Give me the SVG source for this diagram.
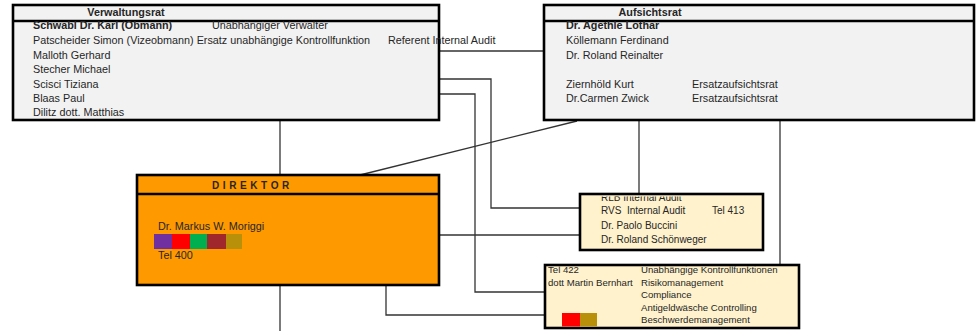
<svg xmlns="http://www.w3.org/2000/svg" width="978" height="331" viewBox="0 0 978 331">
<defs>
<style>
.box{stroke:#000;stroke-width:2.6}
.sep{stroke:#000;stroke-width:2.4}
.gray{fill:#F2F2F2}
.orange{fill:#FF9900}
.cream{fill:#FFF2CC}
.con{fill:none;stroke:#333;stroke-width:1.3}
text{font-family:"Liberation Sans",Arial,sans-serif;fill:#262626}
.t{font-size:10.8px}
.b{font-weight:bold}
.s{font-size:10px}
.xs{font-size:9.6px}
</style>
<clipPath id="cRLB"><rect x="581.5" y="196.5" width="180" height="52"/></clipPath>
<clipPath id="cBot"><rect x="546.5" y="266.5" width="251" height="60"/></clipPath>
</defs>
<rect width="978" height="331" fill="#fff"/>
<g id="connectors">
<path class="con" d="M280 120V175"/>
<path class="con" d="M280 285V331"/>
<path class="con" d="M439 51H544"/>
<path class="con" d="M439 79H491V208H580"/>
<path class="con" d="M439 94H475V292H545"/>
<path class="con" d="M439 235H580"/>
<path class="con" d="M386 285V315H545"/>
<path class="con" d="M577 121L360 175"/>
<path class="con" d="M639 120V194"/>
<path class="con" d="M780 120V265"/>
</g>
<g id="verwaltungsrat">
<rect class="box gray" x="13" y="5" width="426" height="115"/>
<line class="sep" x1="13" y1="21" x2="439" y2="21"/>
<text class="t b" x="126" y="15.5" text-anchor="middle">Verwaltungsrat</text>
<text class="t b" x="33" y="29">Schwabl Dr. Karl (Obmann)</text>
<text class="t" x="212" y="29">Unabhängiger Verwalter</text>
<text class="t" x="33" y="44">Patscheider Simon (Vizeobmann) Ersatz unabhängige Kontrollfunktion</text>
<text class="t" x="388" y="44">Referent Internal Audit</text>
<text class="t" x="33" y="58.5">Malloth Gerhard</text>
<text class="t" x="33" y="73">Stecher Michael</text>
<text class="t" x="33" y="87.5">Scisci Tiziana</text>
<text class="t" x="33" y="102">Blaas Paul</text>
<text class="t" x="33" y="116">Dilitz dott. Matthias</text>
</g>
<g id="aufsichtsrat">
<rect class="box gray" x="544" y="5" width="430" height="115"/>
<line class="sep" x1="544" y1="21" x2="974" y2="21"/>
<text class="t b" x="650" y="15.5" text-anchor="middle">Aufsichtsrat</text>
<text class="t b" x="566" y="29">Dr. Agethle Lothar</text>
<text class="t" x="566" y="44">Köllemann Ferdinand</text>
<text class="t" x="566" y="59">Dr. Roland Reinalter</text>
<text class="t" x="566" y="88">Ziernhöld Kurt</text>
<text class="t" x="692" y="88">Ersatzaufsichtsrat</text>
<text class="t" x="566" y="102">Dr.Carmen Zwick</text>
<text class="t" x="692" y="102">Ersatzaufsichtsrat</text>
</g>
<g id="direktor">
<rect class="box orange" x="137" y="175" width="302" height="110"/>
<line class="sep" x1="137" y1="194" x2="439" y2="194"/>
<text class="s b" x="212" y="189" letter-spacing="0.4">D I R E K T O R</text>
<text class="t" x="158" y="230">Dr. Markus W. Moriggi</text>
<rect x="154" y="234" width="18" height="15" fill="#7030A0"/>
<rect x="172" y="234" width="18" height="15" fill="#FF0000"/>
<rect x="190" y="234" width="17" height="15" fill="#00B050"/>
<rect x="207" y="234" width="19" height="15" fill="#A0282C"/>
<rect x="226" y="234" width="16" height="15" fill="#B8900A"/>
<text class="t" x="158" y="259">Tel 400</text>
</g>
<g id="internal-audit">
<rect class="box cream" x="580" y="194" width="183" height="56"/>
<g clip-path="url(#cRLB)">
<text class="s" x="601" y="200.5">RLB Internal Audit</text>
<text class="s" x="601" y="214" xml:space="preserve">RVS  Internal Audit</text>
<text class="s" x="712" y="214">Tel 413</text>
<text class="s" x="601" y="229">Dr. Paolo Buccini</text>
<text class="s" x="601" y="243">Dr. Roland Schönweger</text>
</g>
</g>
<g id="kontrollfunktionen">
<rect class="box cream" x="545" y="265" width="254" height="63"/>
<g clip-path="url(#cBot)">
<text class="xs" x="548" y="272.5">Tel 422</text>
<text class="xs" x="641" y="272.5">Unabhängige Kontrollfunktionen</text>
<text class="xs" x="548" y="285.5">dott Martin Bernhart</text>
<text class="xs" x="641" y="285.5">Risikomanagement</text>
<text class="xs" x="641" y="298">Compliance</text>
<text class="xs" x="641" y="310.5">Antigeldwäsche Controlling</text>
<text class="xs" x="641" y="322.5">Beschwerdemanagement</text>
<rect x="562" y="313" width="18" height="15" fill="#FF0000"/>
<rect x="580" y="313" width="17" height="15" fill="#B8900A"/>
</g>
</g>
</svg>
